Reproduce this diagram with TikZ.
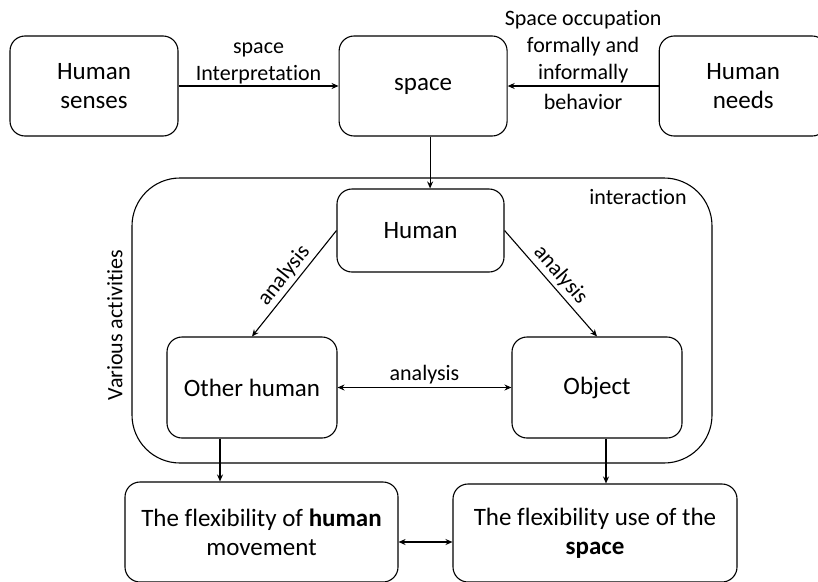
\documentclass[tikz,border=0pt]{standalone}
\usepackage{fontspec}
\setmainfont{Carlito}[Ligatures=NoCommon]
\usetikzlibrary{arrows.meta,positioning,calc}

\begin{document}
\begin{tikzpicture}[
  x=1pt, y=-1pt,
  line width=1.1pt,
  box/.style={draw,rounded corners=15pt,minimum width=168pt,minimum height=100pt,
              align=center,inner sep=2pt,font=\fontsize{25}{29}\selectfont},
  lbl/.style={font=\fontsize{22}{27}\selectfont,align=center,inner sep=1pt},
  >={Stealth[length=7pt,width=6pt]},
]
  \useasboundingbox (0,0) rectangle (818,581);
  \clip (0,0) rectangle (818,581);

  % top row
  \node[box] (senses) at (94,86) {Human\\senses};
  \node[box, right=160pt of senses] (space) {space};
  \node[box, right=151pt of space] (needs) {Human\\needs};

  % interaction frame
  \node[draw,rounded corners=48pt,minimum width=580pt,minimum height=285pt]
    (frame) at (422,320.5) {};
  \node[lbl] (inter) at (638,197) {interaction};
  \node[lbl, rotate=90] (various) at (115,325) {Various activities};

  \node[box, minimum width=167pt, minimum height=83pt] (human) at (420.5,230.5) {Human};
  \node[box, minimum width=170pt, minimum height=101pt] (other) at (252,387.5) {Other human};
  \node[box, minimum width=170pt, minimum height=101pt] (object) at (597,387.5) {Object};

  % bottom row
  \node[box, minimum width=273pt] (flexhuman) at (261.5,532)
    {The flexibility of \textbf{human}\\movement};
  \node[box, minimum width=284pt, minimum height=98pt] (flexspace) at (595,533)
    {The flexibility use of the\\\textbf{space}};

  \draw[->] (senses) -- node[above,lbl] {space\\Interpretation} (space);
  \draw[->] (needs) -- node[above=1pt,lbl] {Space occupation\\formally and\\informally}
                       node[below=7pt,lbl] {behavior} (space);
  \draw[->] ([xshift=7pt]space.south) -- ([xshift=7pt]space.south |- human.north);
  \draw[->] (human.west) -- node[sloped,above=2pt,lbl] {analysis} (other.north);
  \draw[->] (human.east) -- node[sloped,above=2pt,lbl] {analysis} (object.north);
  \draw[<->] (other) -- node[above=2pt,lbl] {analysis} (object);
  \draw[->] ([xshift=-32pt]other.south) -- ([xshift=-32pt]other.south |- flexhuman.north);
  \draw[->] ([xshift=9pt]object.south) -- ([xshift=9pt]object.south |- flexspace.north);
  \draw[<->] ([yshift=-10pt]flexhuman.east) -- ([yshift=-10pt]flexhuman.east -| flexspace.west);
\end{tikzpicture}
\end{document}
